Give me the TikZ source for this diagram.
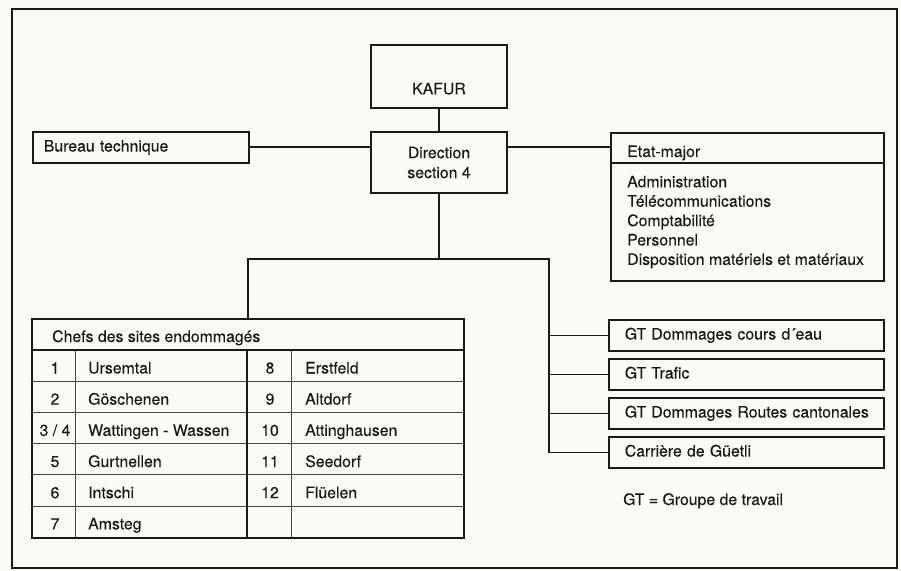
\documentclass[tikz,border=0pt]{standalone}
\usepackage{fontspec}
\setmainfont{TeX Gyre Heros}[FakeBold=0.15]
\usetikzlibrary{calc}
\definecolor{paper}{RGB}{251,251,246}
\definecolor{ink}{RGB}{25,25,25}
\tikzset{
	orgbox/.style={draw=ink, rectangle, inner sep=0pt, line width=1.4pt},
	leftbox/.style={orgbox, align=left, text height=0.72em, text depth=0pt},
	entry/.style={anchor=base west, inner sep=0pt, text=ink},
	num/.style={anchor=base, inner sep=0pt, text=ink},
	wire/.style={draw=ink, line width=1.4pt},
	gridline/.style={draw=ink!80, line width=0.7pt}
}

\begin{document}
\begin{tikzpicture}[x=0.03cm, y=-0.03cm, font=\fontsize{13.5}{17}\selectfont, text=ink]
	\useasboundingbox[fill=paper] (0,0) rectangle (901,571);
	\draw[ink, line width=1pt] (12,9) rectangle (897,568); %frame

	%BOXES
	\node[orgbox, minimum width=4.08cm, minimum height=1.89cm, text height=1.07cm, text depth=0pt] (kafur) at (439,76.5) {KAFUR};
	\node[orgbox, minimum width=4.08cm, minimum height=1.83cm, align=center] (direc) at (439,162.5) {Direction\\section 4};
	\node[leftbox, anchor=north west, minimum height=0.93cm, text width=5.82cm, inner xsep=0.33cm] (bureau) at (32,131) {\mbox{Bureau technique}};
	\node[orgbox, anchor=north west, minimum width=8.19cm, minimum height=4.44cm] (etat) at (610,132) {};
	\coordinate (etatsep) at (610,163);
	\draw[ink, line width=1pt] (etatsep) -- (etatsep -| etat.east);
	\node[entry] (etathead) at (627,157) {Etat-major};
	\foreach \t [count=\i] in {Administration, Télécommunications, Comptabilité, Personnel, Disposition matériels et matériaux}
		\node[entry] (etat\i) at (627,{187.3+19.4*(\i-1)}) {\t};

	%GROUPES DE TRAVAIL
	\foreach \t [count=\i] in {GT Dommages cours d´eau, GT Trafic, GT Dommages Routes cantonales, Carrière de Güetli}
		\node[leftbox, anchor=north west, minimum height=0.93cm, text width=7.29cm, inner xsep=0.48cm] (gt\i) at (608,{319+39*(\i-1)}) {\mbox{\t}};
	\node[entry] (legend) at (623,505) {GT = Groupe de travail};

	%TABLE
	\node[orgbox, anchor=north west, minimum width=12.96cm, minimum height=6.57cm] (sites) at (31,318) {};
	\node[entry] (sitestitle) at (52,342) {Chefs des sites endommagés};
	\draw[wire] (31,350) -- (463,350);
	\foreach \y in {381,412,443,474,506} \draw[gridline] (31,\y) -- (463,\y);
	\foreach \x in {75,291} \draw[gridline] (\x,350) -- (\x,537);
	\draw[wire] (247,350) -- (247,537);
	\foreach \n/\t [count=\i] in {1/Ursemtal, 2/Göschenen, {3 / 4}/Wattingen - Wassen, 5/Gurtnellen, 6/Intschi, 7/Amsteg} {
		\node[num] (lnum\i) at (55,{373.5+31.17*(\i-1)}) {\n};
		\node[entry] (lsite\i) at (88,{373.5+31.17*(\i-1)}) {\t};
	}
	\foreach \n/\t [count=\i] in {8/Erstfeld, 9/Altdorf, 10/Attinghausen, 11/Seedorf, 12/Flüelen} {
		\node[num] (rnum\i) at (270,{373.5+31.17*(\i-1)}) {\n};
		\node[entry] (rsite\i) at (305,{373.5+31.17*(\i-1)}) {\t};
	}

	%LINES
	\coordinate (split) at (439,259);
	\coordinate (bus) at (549,259);
	\draw[wire] (kafur) -- (direc);
	\draw[wire] (bureau.east) -- (bureau.east -| direc.west);
	\draw[wire] (bureau.east -| direc.east) -- (bureau.east -| etat.west);
	\draw[wire] (direc.south) -- (split);
	\draw[wire] (sites.north) |- (bus) |- (gt4.west);
	\foreach \i in {1,2,3} \draw[wire] (bus |- gt\i.west) -- (gt\i.west);
\end{tikzpicture}
\end{document}
